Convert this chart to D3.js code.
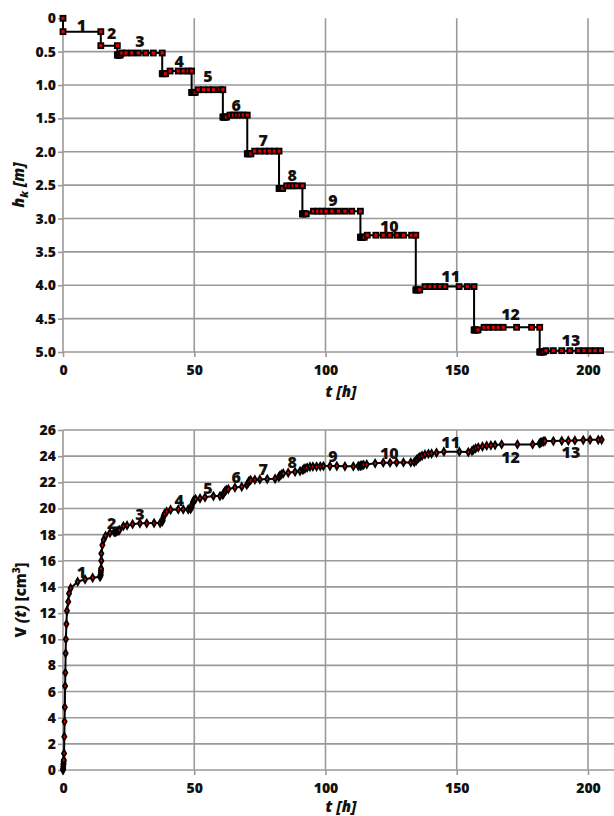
<!DOCTYPE html>
<html>
<head>
<meta charset="utf-8">
<script src="https://cdn.jsdelivr.net/npm/d3@7"></script>
<style>
  body { margin: 0; background: #fff; }
  svg text { font-family: "Open Sans", "Liberation Sans", sans-serif; font-weight: 800; fill: #111; }
  .grid line { stroke: #9a9a9a; stroke-width: 1.6; }
  .axis path, .axis line { stroke: #9a9a9a; stroke-width: 1.6; }
  .axis text { font-size: 14px; }
  .stage-label { font-size: 16px; }
  .axis-title { font-size: 15px; font-style: italic; }
</style>
</head>
<body>
<div id="svg-container"></div>
<script>
//////////////////////////// data ////////////////////////////
const stages = [1, 2, 3, 4, 5, 6, 7, 8, 9, 10, 11, 12, 13];

// top chart: depth h_k per stage
const hInitial = [0, 0]; // [t, h]
const hStart = [0.2, 0.41, 0.55, 0.83, 1.11, 1.48, 2.03, 2.55, 2.93, 3.28, 4.07, 4.67, 5.0];
const hLevel = [0.2, 0.41, 0.52, 0.79, 1.07, 1.45, 1.99, 2.51, 2.89, 3.25, 4.02, 4.63, 4.98];
const hBlobTimes = [
  [0],
  [14.4],
  [20.7, 20.9, 21.1, 21.4, 21.8],
  [37.8, 38.0, 38.3, 38.6, 39.1],
  [49.0, 49.2, 49.5, 49.9, 50.4],
  [60.9, 61.1, 61.4, 61.8, 62.3],
  [70.2, 70.4, 70.7, 71.1, 71.6],
  [82.3, 82.5, 82.8, 83.2, 83.7],
  [91.2, 91.4, 91.7, 92.1, 92.7],
  [113.3, 113.5, 113.8, 114.2, 114.8],
  [134.4, 134.6, 134.9, 135.3, 135.9],
  [156.6, 156.8, 157.1, 157.5, 158.1],
  [181.6, 181.8, 182.1, 182.5, 183.1]
];
const hTimes = [
  [14.4],
  [20.7],
  [22.4, 24.0, 26.2, 28.7, 31.5, 34.4, 37.8],
  [40.8, 43.9, 45.8, 47.7, 49.0],
  [51.5, 53.5, 55.4, 57.3, 59.8, 60.9],
  [63.6, 64.9, 66.2, 67.4, 68.7, 70.2],
  [73.0, 75.0, 77.0, 78.6, 80.5, 82.3],
  [85.2, 86.5, 87.7, 89.0, 91.2],
  [95.4, 97.0, 98.6, 100.2, 102.4, 104.9, 107.4, 110.0, 113.3],
  [115.9, 119.2, 122.0, 124.5, 127.2, 129.7, 132.8, 134.4],
  [137.9, 139.8, 141.7, 143.6, 145.5, 150.9, 154.0, 156.6],
  [160.4, 162.0, 163.9, 165.8, 167.7, 172.8, 178.5, 181.6],
  [184.0, 186.8, 190.0, 193.1, 196.3, 198.5, 200.8, 202.7, 204.8]
];

// bottom chart: cumulative volume V(t)
const volT = [
  0, 0.05, 0.1, 0.15, 0.2, 0.25, 0.3, 0.4, 0.5, 0.6, 0.7, 0.8, 0.9, 1.0, 1.1, 1.3, 1.5, 2.0, 2.3, 2.9,
  5.6, 8.4, 11.3, 14.1, 14.3, 14.35, 14.4, 14.45, 14.5, 14.6, 14.6, 15.0, 15.5, 16.2, 17.9,
  19.5, 20.0, 20.5, 21.0, 21.5,
  23.0, 24.4, 26.5, 29.3, 31.9, 34.7, 37.0,
  37.8, 38.0, 38.2, 38.4, 38.7, 39.5, 41.0, 43.9, 45.8, 47.7, 48.6,
  49.0, 49.2, 49.5, 49.9, 50.5, 52.2, 54.1, 57.3, 59.8,
  60.9, 61.2, 61.6, 62.2, 63.0, 65.5, 68.1, 70.0,
  70.5, 70.9, 71.5, 73.1, 75.0, 77.8, 80.8,
  82.2, 82.6, 83.2, 83.9, 85.8, 88.4, 90.3,
  91.4, 91.8, 92.2, 93.0, 94.1, 95.2, 96.6, 98.0, 99.2, 101.7, 104.3, 107.4, 110.6, 112.5,
  113.2, 113.5, 113.9, 114.5, 115.7, 118.9, 122.0, 124.6, 127.1, 129.7, 132.5, 133.8,
  134.5, 134.8, 135.4, 136.0, 136.8, 137.9, 139.2, 140.4, 142.3, 145.1, 151.0, 154.4,
  155.8, 156.4, 157.2, 158.2, 159.8, 161.4, 163.0, 164.6, 167.1, 173.1, 178.9,
  181.5, 181.9, 182.4, 183.0, 183.6, 186.8, 190.0, 192.5, 195.0, 198.2, 200.8, 203.9, 205.2
];
const volV = [
  0, 0.1, 0.25, 0.4, 0.5, 0.65, 0.76, 1.27, 2.55, 3.7, 4.8, 6.42, 7.44, 8.92, 10.0, 11.16, 12.18, 12.87, 13.5, 13.9,
  14.4, 14.58, 14.7, 14.78, 14.85, 14.95, 15.1, 15.25, 15.4, 16.0, 16.55, 17.2, 17.6, 17.9, 18.14,
  18.2, 18.22, 18.25, 18.3, 18.35,
  18.65, 18.7, 18.8, 18.86, 18.86, 18.88, 18.88,
  19.0, 19.1, 19.3, 19.45, 19.6, 19.75, 19.9, 19.93, 19.93, 19.93, 19.95,
  20.1, 20.3, 20.5, 20.64, 20.72, 20.77, 20.85, 20.95, 20.95,
  21.05, 21.15, 21.3, 21.42, 21.48, 21.6, 21.66, 21.8,
  21.95, 22.1, 22.17, 22.2, 22.22, 22.25, 22.27,
  22.4, 22.5, 22.6, 22.68, 22.73, 22.8, 22.86,
  22.95, 23.02, 23.06, 23.12, 23.19, 23.2, 23.2, 23.22, 23.24, 23.24, 23.24, 23.22, 23.22, 23.24,
  23.26, 23.28, 23.3, 23.33, 23.37, 23.45, 23.5, 23.5, 23.52, 23.52, 23.52, 23.55,
  23.65, 23.75, 23.85, 23.95, 24.03, 24.13, 24.18, 24.2, 24.26, 24.34, 24.34, 24.31,
  24.4, 24.5, 24.6, 24.67, 24.74, 24.8, 24.83, 24.85, 24.9, 24.9, 24.9,
  24.97, 25.03, 25.08, 25.12, 25.15, 25.15, 25.17, 25.18, 25.2, 25.23, 25.25, 25.25, 25.25
];

// stage label anchors (data units)
const labelT = [7, 18.5, 29.3, 44.3, 55.2, 66, 76.3, 87.3, 102.8, 124.3, 147.7, 170.5, 193.5];
const labelH = [0.1, 0.22, 0.35, 0.64, 0.87, 1.3, 1.83, 2.35, 2.73, 3.11, 3.86, 4.43, 4.82];
const labelV = [15.16, 18.86, 19.57, 20.64, 21.58, 22.42, 22.99, 23.5, 24.03, 24.26, 25.05, 23.88, 24.29];

const hTicks = [0, 0.5, 1.0, 1.5, 2.0, 2.5, 3.0, 3.5, 4.0, 4.5, 5.0];
const vTicks = [0, 2, 4, 6, 8, 10, 12, 14, 16, 18, 20, 22, 24, 26];
const tTicks = [0, 50, 100, 150, 200];

//////////////////////////// init ////////////////////////////
const width = 614;
const height = 816;

const svg = d3
  .select("#svg-container")
  .append("svg")
  .attr("width", width)
  .attr("height", height);

const xScale = d3.scaleLinear().domain([0, 210]).range([63, 614.25]);
const yTop = d3.scaleLinear().domain([0, 5]).range([18.3, 352]);
const yBot = d3.scaleLinear().domain([0, 26]).range([770, 430]);

// build point lists
const topPoints = [{ t: hInitial[0], h: hInitial[1] }];
stages.forEach((s, i) => {
  hBlobTimes[i].forEach((t) => topPoints.push({ t: t, h: hStart[i] }));
  hTimes[i].forEach((t) => topPoints.push({ t: t, h: hLevel[i] }));
});
const botPoints = volT.map((t, i) => ({ t: t, v: volV[i] }));

function drawPanel(yScale, ticks, tickFmt, yBottomPx, yTopPx, withTopGrid) {
  const g = svg.append("g");

  // gridlines
  g.append("g")
    .attr("class", "grid")
    .selectAll("line.h")
    .data(withTopGrid ? ticks : ticks.slice(1))
    .enter()
    .append("line")
    .attr("x1", xScale.range()[0])
    .attr("x2", xScale.range()[1])
    .attr("y1", (d) => yScale(d))
    .attr("y2", (d) => yScale(d));

  g.append("g")
    .attr("class", "grid")
    .selectAll("line.v")
    .data(tTicks.slice(1))
    .enter()
    .append("line")
    .attr("x1", (d) => xScale(d))
    .attr("x2", (d) => xScale(d))
    .attr("y1", yTopPx)
    .attr("y2", yBottomPx);

  // axes
  g.append("g")
    .attr("class", "axis")
    .attr("transform", `translate(${xScale.range()[0]},0)`)
    .call(d3.axisLeft(yScale).tickValues(ticks).tickFormat(tickFmt).tickSize(5).tickSizeOuter(0).tickPadding(2))
    .call((a) => a.select(".domain").attr("d", `M0,${yTopPx}V${yBottomPx}`));

  g.append("g")
    .attr("class", "axis")
    .attr("transform", `translate(0,${yBottomPx})`)
    .call(d3.axisBottom(xScale).tickValues(tTicks).tickSize(5).tickSizeOuter(0).tickPadding(8))
    .call((a) => a.select(".domain").remove());

  return g;
}

//////////////////////////// top chart ////////////////////////////
const gTop = drawPanel(yTop, hTicks, (d) => (d === 0 ? "0" : d3.format(".1f")(d)), 352, 18.3, false);

gTop.append("path")
  .datum(topPoints)
  .attr("fill", "none")
  .attr("stroke", "#000")
  .attr("stroke-width", 2)
  .attr("d", d3.line().x((d) => xScale(d.t)).y((d) => yTop(d.h)));

gTop.selectAll("rect.pt")
  .data(topPoints)
  .enter()
  .append("rect")
  .attr("x", (d) => xScale(d.t) - 2.5)
  .attr("y", (d) => yTop(d.h) - 2.5)
  .attr("width", 5)
  .attr("height", 5)
  .attr("fill", "#e00000")
  .attr("stroke", "#000")
  .attr("stroke-width", 1.8);

gTop.selectAll("text.stage")
  .data(stages)
  .enter()
  .append("text")
  .attr("class", "stage-label")
  .attr("text-anchor", "middle")
  .attr("x", (d, i) => xScale(labelT[i]))
  .attr("y", (d, i) => yTop(labelH[i]))
  .attr("dy", "0.36em")
  .text((d) => d);

svg.append("text")
  .attr("class", "axis-title")
  .attr("text-anchor", "middle")
  .attr("x", 341)
  .attr("y", 397)
  .text("t [h]");

const hTitle = svg.append("text")
  .attr("class", "axis-title")
  .attr("text-anchor", "middle")
  .attr("transform", "translate(24,185) rotate(-90)");
hTitle.append("tspan").attr("font-size", "16px").text("h");
hTitle.append("tspan").attr("dy", 4).attr("font-size", "11px").text("k");
hTitle.append("tspan").attr("dy", -4).text(" [m]");

//////////////////////////// bottom chart ////////////////////////////
const gBot = drawPanel(yBot, vTicks, (d) => d, 770, 430, true);

gBot.append("path")
  .datum(botPoints)
  .attr("fill", "none")
  .attr("stroke", "#000")
  .attr("stroke-width", 2)
  .attr("d", d3.line().x((d) => xScale(d.t)).y((d) => yBot(d.v)));

gBot.selectAll("path.pt")
  .data(botPoints)
  .enter()
  .append("path")
  .attr("transform", (d) => `translate(${xScale(d.t)},${yBot(d.v)})`)
  .attr("d", d3.symbol().type(d3.symbolDiamond).size(15))
  .attr("fill", "#e00000")
  .attr("stroke", "#000")
  .attr("stroke-width", 1.8);

gBot.selectAll("text.stage")
  .data(stages)
  .enter()
  .append("text")
  .attr("class", "stage-label")
  .attr("text-anchor", "middle")
  .attr("x", (d, i) => xScale(labelT[i]))
  .attr("y", (d, i) => yBot(labelV[i]))
  .attr("dy", "0.36em")
  .text((d) => d);

svg.append("text")
  .attr("class", "axis-title")
  .attr("text-anchor", "middle")
  .attr("x", 341)
  .attr("y", 812)
  .text("t [h]");

const vTitle = svg.append("text")
  .attr("class", "axis-title")
  .attr("text-anchor", "middle")
  .attr("font-size", "16px")
  .attr("transform", "translate(26,600) rotate(-90)");
vTitle.append("tspan").attr("font-style", "normal").text("V ");
vTitle.append("tspan").attr("font-style", "italic").text("(t)");
vTitle.append("tspan").attr("font-style", "normal").text(" [cm");
vTitle.append("tspan").attr("font-style", "normal").attr("dy", -6).attr("font-size", "10px").text("3");
vTitle.append("tspan").attr("font-style", "normal").attr("dy", 6).text("]");
</script>
</body>
</html>
